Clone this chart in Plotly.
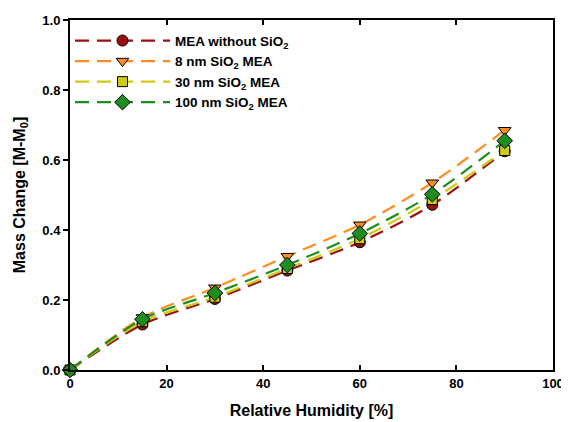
import plotly.graph_objects as go

humidity = [0, 15, 30, 45, 60, 75, 90]
mea_without = [0.0, 0.130, 0.203, 0.284, 0.365, 0.472, 0.625]
sio2_8nm = [0.0, 0.150, 0.235, 0.325, 0.415, 0.535, 0.685]
sio2_30nm = [0.0, 0.138, 0.208, 0.290, 0.375, 0.487, 0.627]
sio2_100nm = [0.0, 0.145, 0.220, 0.300, 0.390, 0.502, 0.655]

names = ["MEA without SiO<sub>2</sub>", "8 nm SiO<sub>2</sub> MEA",
         "30 nm SiO<sub>2</sub> MEA", "100 nm SiO<sub>2</sub> MEA"]
series = [mea_without, sio2_8nm, sio2_30nm, sio2_100nm]
colors = ["#9B1010", "#FF8C1E", "#CCCC10", "#1E8C1E"]
symbols = ["circle", "triangle-down", "square", "diamond"]
sizes = [11, 11, 10, 12]

FONT = "Liberation Sans, Arial, sans-serif"

fig = go.Figure()
for nm, ys, c, s, sz in zip(names, series, colors, symbols, sizes):
    fig.add_trace(go.Scatter(
        x=humidity, y=ys, name=nm, mode="lines+markers",
        line=dict(color=c, width=2.2, dash="14px,8px", shape="spline", smoothing=0.8),
        marker=dict(symbol=s, size=sz, color=c, line=dict(color="black", width=1)),
        cliponaxis=False))

fig.update_layout(
    width=561, height=414,
    margin=dict(l=62, r=16, t=12, b=52),
    paper_bgcolor="white", plot_bgcolor="white",
    font=dict(family=FONT, color="black"),
    showlegend=True,
    legend=dict(x=0.0, y=0.985, xanchor="left", yanchor="top",
                bgcolor="rgba(0,0,0,0)", borderwidth=0,
                font=dict(size=13.5, family=FONT, weight="bold"),
                itemwidth=95, tracegroupgap=0),
    xaxis=dict(range=[0, 100], tickvals=[0, 20, 40, 60, 80, 100],
               ticks="inside", ticklen=5, tickwidth=1.5, tickcolor="black",
               showline=True, linecolor="black", linewidth=2, mirror="ticks",
               showgrid=False, zeroline=False, automargin=False,
               ticklabeloverflow="allow",
               tickfont=dict(size=13, weight="bold", family=FONT),
               title=dict(text="Relative Humidity [%]", standoff=15,
                          font=dict(size=16, weight="bold", family=FONT))),
    yaxis=dict(range=[0, 1.0], tickvals=[0, 0.2, 0.4, 0.6, 0.8, 1.0], tickformat=".1f",
               ticks="outside", ticklen=5, tickwidth=1.5, tickcolor="black",
               showline=True, linecolor="black", linewidth=2, mirror=True,
               showgrid=False, zeroline=False, automargin=False,
               ticklabeloverflow="allow",
               tickfont=dict(size=13, weight="bold", family=FONT),
               title=dict(text="Mass Change [M-M<sub>0</sub>]", standoff=13,
                          font=dict(size=16, weight="bold", family=FONT))),
    yaxis2=dict(range=[0, 1.0], overlaying="y", side="right", anchor="x",
                tickvals=[0, 0.2, 0.4, 0.6, 0.8, 1.0],
                ticks="inside", ticklen=5, tickwidth=1.5, tickcolor="black",
                showticklabels=False, showline=True, linecolor="black", linewidth=2,
                showgrid=False, zeroline=False, automargin=False),
)

fig.write_html("out.html")
